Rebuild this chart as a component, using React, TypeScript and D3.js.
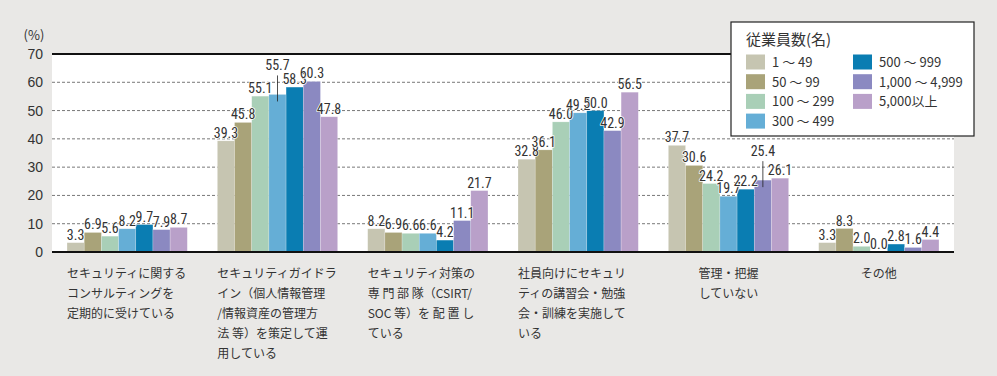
import React from "react";
import * as d3 from "d3";

const categories = [
  ["セキュリティに関する", "コンサルティングを", "定期的に受けている"],
  ["セキュリティガイドラ", "イン（個人情報管理", "/情報資産の管理方", "法 等）を策定して運", "用している"],
  ["セキュリティ対策の", "専 門 部 隊（CSIRT/", "SOC 等）を 配 置 し", "ている"],
  ["社員向けにセキュリ", "ティの講習会・勉強", "会・訓練を実施して", "いる"],
  ["管理・把握", "していない"],
  ["その他"],
];
const categoryAlign = ["start", "start", "start", "start", "middle", "middle"];

const seriesNames = ["1 ～ 49", "50 ～ 99", "100 ～ 299", "300 ～ 499", "500 ～ 999", "1,000 ～ 4,999", "5,000以上"];
const s1 = [3.3, 39.3, 8.2, 32.8, 37.7, 3.3];
const s2 = [6.9, 45.8, 6.9, 36.1, 30.6, 8.3];
const s3 = [5.6, 55.1, 6.6, 46.0, 24.2, 2.0];
const s4 = [8.2, 55.7, 6.6, 49.2, 19.7, 0.0];
const s5 = [9.7, 58.3, 4.2, 50.0, 22.2, 2.8];
const s6 = [7.9, 60.3, 11.1, 42.9, 25.4, 1.6];
const s7 = [8.7, 47.8, 21.7, 56.5, 26.1, 4.4];
const seriesValues = [s1, s2, s3, s4, s5, s6, s7];
const colors = ["#c6c5b1", "#a9a379", "#a9cfb7", "#65aed6", "#0a7db2", "#8b89c1", "#b9a0c9"];
const yTicks = [0, 10, 20, 30, 40, 50, 60, 70];
// labels lifted with a leader line: [category index, series index]
const leaders = [[1, 3], [4, 5]];

const W = 997, H = 376;
const plotL = 52, plotR = 954, plotT = 54, plotB = 252;

export default function App() {
  const x = d3.scaleBand<number>().domain(d3.range(categories.length)).range([plotL, plotR]).paddingInner(0.2).paddingOuter(0.1);
  const xs = d3.scaleBand<number>().domain(d3.range(seriesNames.length)).range([0, x.bandwidth()]);
  const y = d3.scaleLinear().domain([0, 70]).range([plotB, plotT]);
  const numFont = "'Liberation Sans Narrow', 'Roboto Condensed', 'Liberation Sans', sans-serif";
  const jpFont = "'Noto Sans CJK JP', sans-serif";
  const isLeader = (c: number, s: number) => leaders.some(([a, b]) => a === c && b === s);

  return (
    <svg width={W} height={H} style={{ position: "absolute", left: 0, top: 0, display: "block" }}>
      <rect x={0} y={0} width={W} height={H} fill="#e9e8e6" />
      <rect x={plotL} y={plotT} width={plotR - plotL} height={plotB - plotT} fill="#ffffff" />
      {yTicks.filter(t => t > 0 && t < 70).map(t => (
        <line key={t} x1={plotL} x2={plotR} y1={y(t)} y2={y(t)} stroke="#555" strokeWidth={0.8} strokeDasharray="3,2" />
      ))}
      <line x1={plotL} x2={plotR} y1={y(70)} y2={y(70)} stroke="#111" strokeWidth={2} />
      {yTicks.map(t => (
        <text key={t} x={43} y={y(t) + 5} textAnchor="end" fontFamily="'Liberation Sans', sans-serif" fontSize={14} fill="#333">{t}</text>
      ))}
      <text x={34} y={40} textAnchor="middle" fontFamily={jpFont} fontSize={13} fill="#333">(%)</text>
      {seriesValues.map((vals, si) => (
        <g key={si}>
          {vals.map((v, ci) => (
            <rect key={ci} x={(x(ci) as number) + (xs(si) as number)} y={y(v)} width={xs.bandwidth()} height={plotB - y(v)} fill={colors[si]} stroke="#ffffff" strokeOpacity={0.35} strokeWidth={0.6} />
          ))}
        </g>
      ))}
      <line x1={plotL} x2={plotR} y1={plotB} y2={plotB} stroke="#111" strokeWidth={2} />
      {seriesValues.map((vals, si) => (
        <g key={"l" + si}>
          {vals.map((v, ci) => {
            const cx = (x(ci) as number) + (xs(si) as number) + xs.bandwidth() / 2;
            const lead = isLeader(ci, si);
            const by = lead ? y(v) - 24 : y(v) - 3;
            return (
              <g key={ci}>
                {lead && <line x1={cx} x2={cx} y1={by + 5} y2={y(v) + 7} stroke="#222" strokeWidth={0.8} />}
                <text x={cx} y={by} textAnchor="middle" fontFamily={numFont} fontSize={14} fill="#333"
                  stroke="#ffffff" strokeWidth={1.5} paintOrder="stroke" strokeLinejoin="round">{v.toFixed(1)}</text>
              </g>
            );
          })}
        </g>
      ))}
      {categories.map((lines, ci) => {
        const anchor = categoryAlign[ci];
        const tx = anchor === "start" ? (x(ci) as number) : (x(ci) as number) + x.bandwidth() / 2;
        return (
          <text key={ci} fontFamily={jpFont} fontSize={12} fill="#333" textAnchor={anchor as any}>
            {lines.map((ln, li) => (
              <tspan key={li} x={tx} y={278 + li * 20}>{ln}</tspan>
            ))}
          </text>
        );
      })}
      <g>
        <rect x={731} y={22} width={243} height={114} fill="#ffffff" stroke="#222" strokeWidth={1.2} />
        <text x={746} y={45} fontFamily={jpFont} fontSize={15} fontWeight={400} fill="#333">従業員数(名)</text>
        {seriesNames.map((n, i) => {
          const col = i < 4 ? 0 : 1;
          const row = i < 4 ? i : i - 4;
          const lx = col === 0 ? 746 : 853;
          const ly = 62 + row * 19.7;
          return (
            <g key={i}>
              <rect x={lx} y={ly - 7.5} width={19} height={15} fill={colors[i]} />
              <text x={lx + 26} y={ly + 5} fontFamily={jpFont} fontSize={13} fill="#333">{n}</text>
            </g>
          );
        })}
      </g>
    </svg>
  );
}
